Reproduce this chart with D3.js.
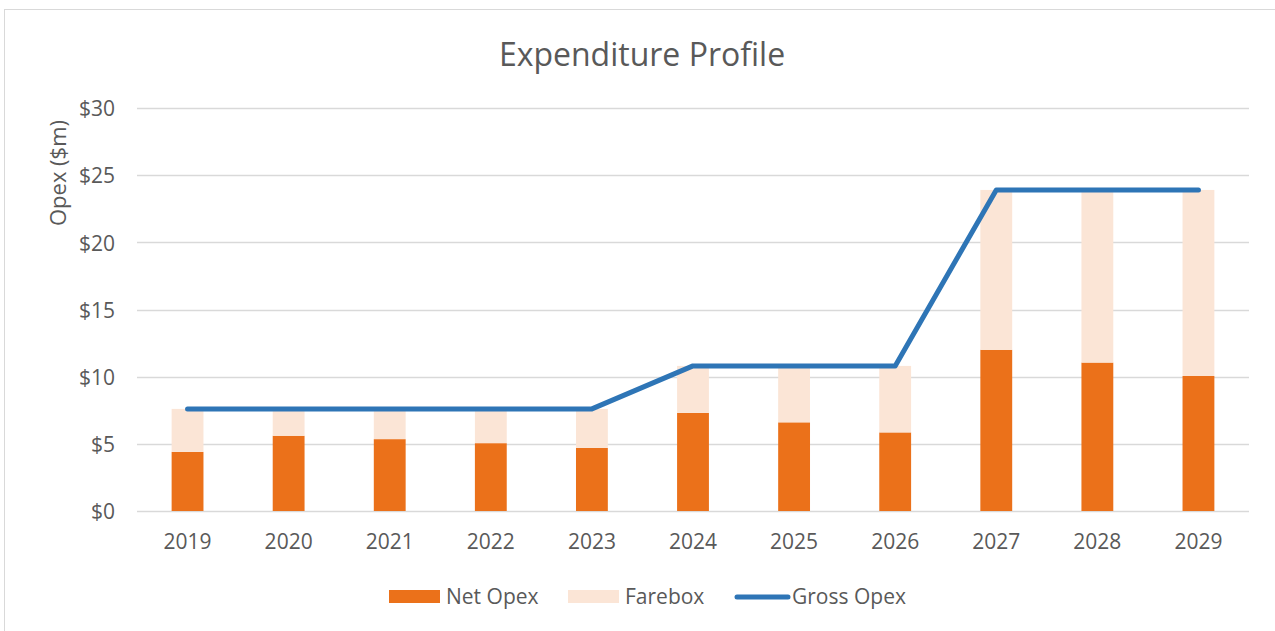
<!DOCTYPE html>
<html>
<head>
<meta charset="utf-8">
<script src="https://cdn.jsdelivr.net/npm/d3@7"></script>
<style>
	body { margin: 0; background: #fff; }
	svg text { font-family: "Open Sans", sans-serif; fill: #595959; }
</style>
</head>
<body>
<div id="vis"></div>
<script>
var years = ["2019", "2020", "2021", "2022", "2023", "2024", "2025", "2026", "2027", "2028", "2029"];
var netOpex = [4.4, 5.6, 5.35, 5.05, 4.7, 7.3, 6.6, 5.85, 12.0, 11.05, 10.05];
var grossOpex = [7.6, 7.6, 7.6, 7.6, 7.6, 10.8, 10.8, 10.8, 23.9, 23.9, 23.9];
var yTicks = [0, 5, 10, 15, 20, 25, 30];

var w = 1275, h = 631;

var rows = years.map(function (d, i) {
	return { year: d, net: netOpex[i], farebox: grossOpex[i] - netOpex[i], gross: grossOpex[i] };
});

var colour = { net: "#EB711A", farebox: "#FBE5D6", gross: "#2E75B6" };

var svg = d3.select("#vis").append("svg")
	.attr("width", w)
	.attr("height", h);

// outer chart frame (right / bottom edges fall outside the picture)
svg.append("rect")
	.attr("x", 4.5)
	.attr("y", 9.5)
	.attr("width", 1400)
	.attr("height", 800)
	.attr("fill", "none")
	.attr("stroke", "#D9D9D9");

var x = d3.scaleBand()
	.domain(years)
	.range([137, 1249])
	.paddingInner(0.685)
	.paddingOuter(0.3425);

var y = d3.scaleLinear()
	.domain([0, 30])
	.range([511, 108]);

// gridlines
svg.append("g")
	.selectAll("line")
	.data(yTicks)
	.enter()
	.append("line")
	.attr("x1", 137)
	.attr("x2", 1249)
	.attr("y1", function (d) { return Math.round(y(d)) + 0.5; })
	.attr("y2", function (d) { return Math.round(y(d)) + 0.5; })
	.attr("stroke", "#D9D9D9")
	.attr("stroke-width", 1.5);

// y tick labels
var yAxis = svg.append("g")
	.attr("transform", "translate(137,1)")
	.call(d3.axisLeft(y).tickValues(yTicks).tickSize(0).tickPadding(22).tickFormat(function (d) { return "$" + d; }));
yAxis.select(".domain").remove();
yAxis.selectAll("text")
	.attr("fill", "#595959")
	.style("font-family", "Open Sans, sans-serif")
	.style("font-size", "21px");

// x tick labels
var xAxis = svg.append("g")
	.attr("transform", "translate(0,511)")
	.call(d3.axisBottom(x).tickSize(0).tickPadding(23));
xAxis.select(".domain").remove();
xAxis.selectAll("text")
	.attr("fill", "#595959")
	.style("font-family", "Open Sans, sans-serif")
	.style("font-size", "21px");

// stacked bars
var stack = d3.stack().keys(["net", "farebox"]);
var layers = svg.append("g")
	.selectAll(".layer")
	.data(stack(rows))
	.enter()
	.append("g")
	.attr("class", "layer")
	.attr("fill", function (d) { return colour[d.key]; });

layers.selectAll("rect")
	.data(function (d) { return d; })
	.enter()
	.append("rect")
	.attr("x", function (d) { return x(d.data.year); })
	.attr("width", x.bandwidth())
	.attr("y", function (d) { return y(d[1]); })
	.attr("height", function (d) { return y(d[0]) - y(d[1]); });

// gross opex line
var line = d3.line()
	.x(function (d) { return x(d.year) + x.bandwidth() / 2; })
	.y(function (d) { return y(d.gross); });

svg.append("path")
	.datum(rows)
	.attr("d", line)
	.attr("fill", "none")
	.attr("stroke", colour.gross)
	.attr("stroke-width", 5)
	.attr("stroke-linejoin", "round")
	.attr("stroke-linecap", "round");

// title
svg.append("text")
	.attr("x", 642)
	.attr("y", 66)
	.attr("text-anchor", "middle")
	.style("font-size", "32px")
	.text("Expenditure Profile");

// y axis title
svg.append("text")
	.attr("transform", "translate(66,173) rotate(-90)")
	.attr("text-anchor", "middle")
	.style("font-size", "22px")
	.text("Opex ($m)");

// legend
var legend = [
	{ key: "net", label: "Net Opex", x: 389, type: "rect" },
	{ key: "farebox", label: "Farebox", x: 568, type: "rect" },
	{ key: "gross", label: "Gross Opex", x: 735, type: "line" }
];

var key = svg.append("g")
	.selectAll(".key-group")
	.data(legend)
	.enter()
	.append("g")
	.attr("class", "key-group")
	.attr("transform", function (d) { return "translate(" + d.x + ",597)"; });

key.filter(function (d) { return d.type === "rect"; })
	.append("rect")
	.attr("x", 0)
	.attr("y", -7)
	.attr("width", 51)
	.attr("height", 13)
	.attr("fill", function (d) { return colour[d.key]; });

key.filter(function (d) { return d.type === "line"; })
	.append("line")
	.attr("x1", 2)
	.attr("x2", 53)
	.attr("y1", 0)
	.attr("y2", 0)
	.attr("stroke", colour.gross)
	.attr("stroke-width", 5)
	.attr("stroke-linecap", "round");

key.append("text")
	.attr("x", 57)
	.attr("y", 7)
	.style("font-size", "21px")
	.text(function (d) { return d.label; });
</script>
</body>
</html>
